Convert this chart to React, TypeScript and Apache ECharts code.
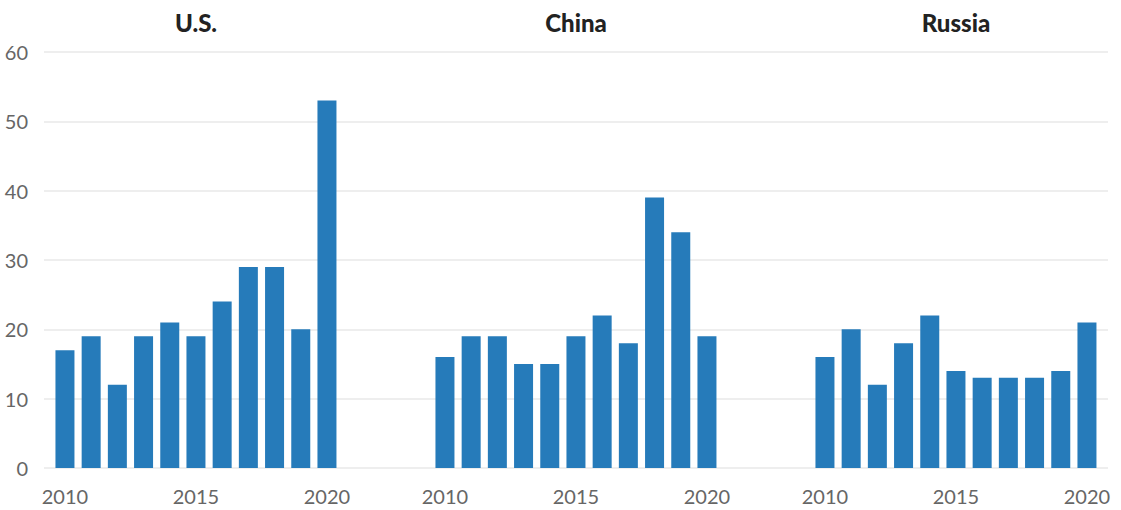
import React, { useEffect, useRef } from "react";
import * as echarts from "echarts";

const years = [2010, 2011, 2012, 2013, 2014, 2015, 2016, 2017, 2018, 2019, 2020];
const panelTitles = ["U.S.", "China", "Russia"];
const usValues = [17, 19, 12, 19, 21, 19, 24, 29, 29, 20, 53];
const chinaValues = [16, 19, 19, 15, 15, 19, 22, 18, 39, 34, 19];
const russiaValues = [16, 20, 12, 18, 22, 14, 13, 13, 13, 14, 21];
const xTickLabels = [2010, 2015, 2020];
const yTicks = [0, 10, 20, 30, 40, 50, 60];

const BAR = "#267bba";
const GRID_LINE = "#e8e8e8";
const LABEL = "#666666";
const FONT = "Lato, 'Open Sans', sans-serif";

export default function App() {
  const ref = useRef<HTMLDivElement>(null);
  useEffect(() => {
    if (!ref.current) return;
    const chart = echarts.init(ref.current, null, { renderer: "svg" });
    const allValues = [usValues, chinaValues, russiaValues];
    const pxPerYear = 26.2;
    const lefts = [44, 424, 804];
    const widths = [380, 380, 304];
    const xMin = 2009.2;
    const grids = lefts.map((l, i) => ({ left: l, width: widths[i], top: 52, bottom: 42 }));
    const xAxes = lefts.map((_, i) => ({
      type: "value",
      gridIndex: i,
      min: xMin,
      max: xMin + widths[i] / pxPerYear,
      axisLine: { show: false },
      axisTick: { show: false },
      splitLine: { show: false },
      axisLabel: {
        customValues: xTickLabels,
        color: LABEL,
        fontSize: 20,
        fontFamily: FONT,
        margin: 18,
        formatter: (v: number) => String(Math.round(v)),
      },
    }));
    const yAxes = lefts.map((_, i) => ({
      type: "value",
      gridIndex: i,
      min: 0,
      max: 60,
      interval: 10,
      axisLine: { show: false },
      axisTick: { show: false },
      splitLine: { show: true, lineStyle: { color: GRID_LINE, width: 1.5 } },
      axisLabel: {
        show: i === 0,
        color: LABEL,
        fontSize: 20,
        fontFamily: FONT,
        margin: 16,
        customValues: yTicks,
      },
    }));
    const series = allValues.map((vals, i) => ({
      type: "bar",
      xAxisIndex: i,
      yAxisIndex: i,
      barWidth: 19,
      itemStyle: { color: BAR },
      data: years.map((y, j) => [y, vals[j]]),
    }));
    const titleCenters = lefts.map((l) => l + 152);
    chart.setOption({
      animation: false,
      grid: grids,
      xAxis: xAxes,
      yAxis: yAxes,
      series,
      graphic: panelTitles.map((t, i) => ({
        type: "text",
        x: titleCenters[i],
        y: 22,
        style: {
          text: t,
          fill: "#222222",
          font: `900 24px ${FONT}`,
          textAlign: "center",
          textVerticalAlign: "middle",
        },
      })),
    });
    return () => chart.dispose();
  }, []);
  return (
    <div
      ref={ref}
      style={{ position: "fixed", left: 0, top: 0, width: 1121, height: 510, background: "#fff" }}
    />
  );
}
